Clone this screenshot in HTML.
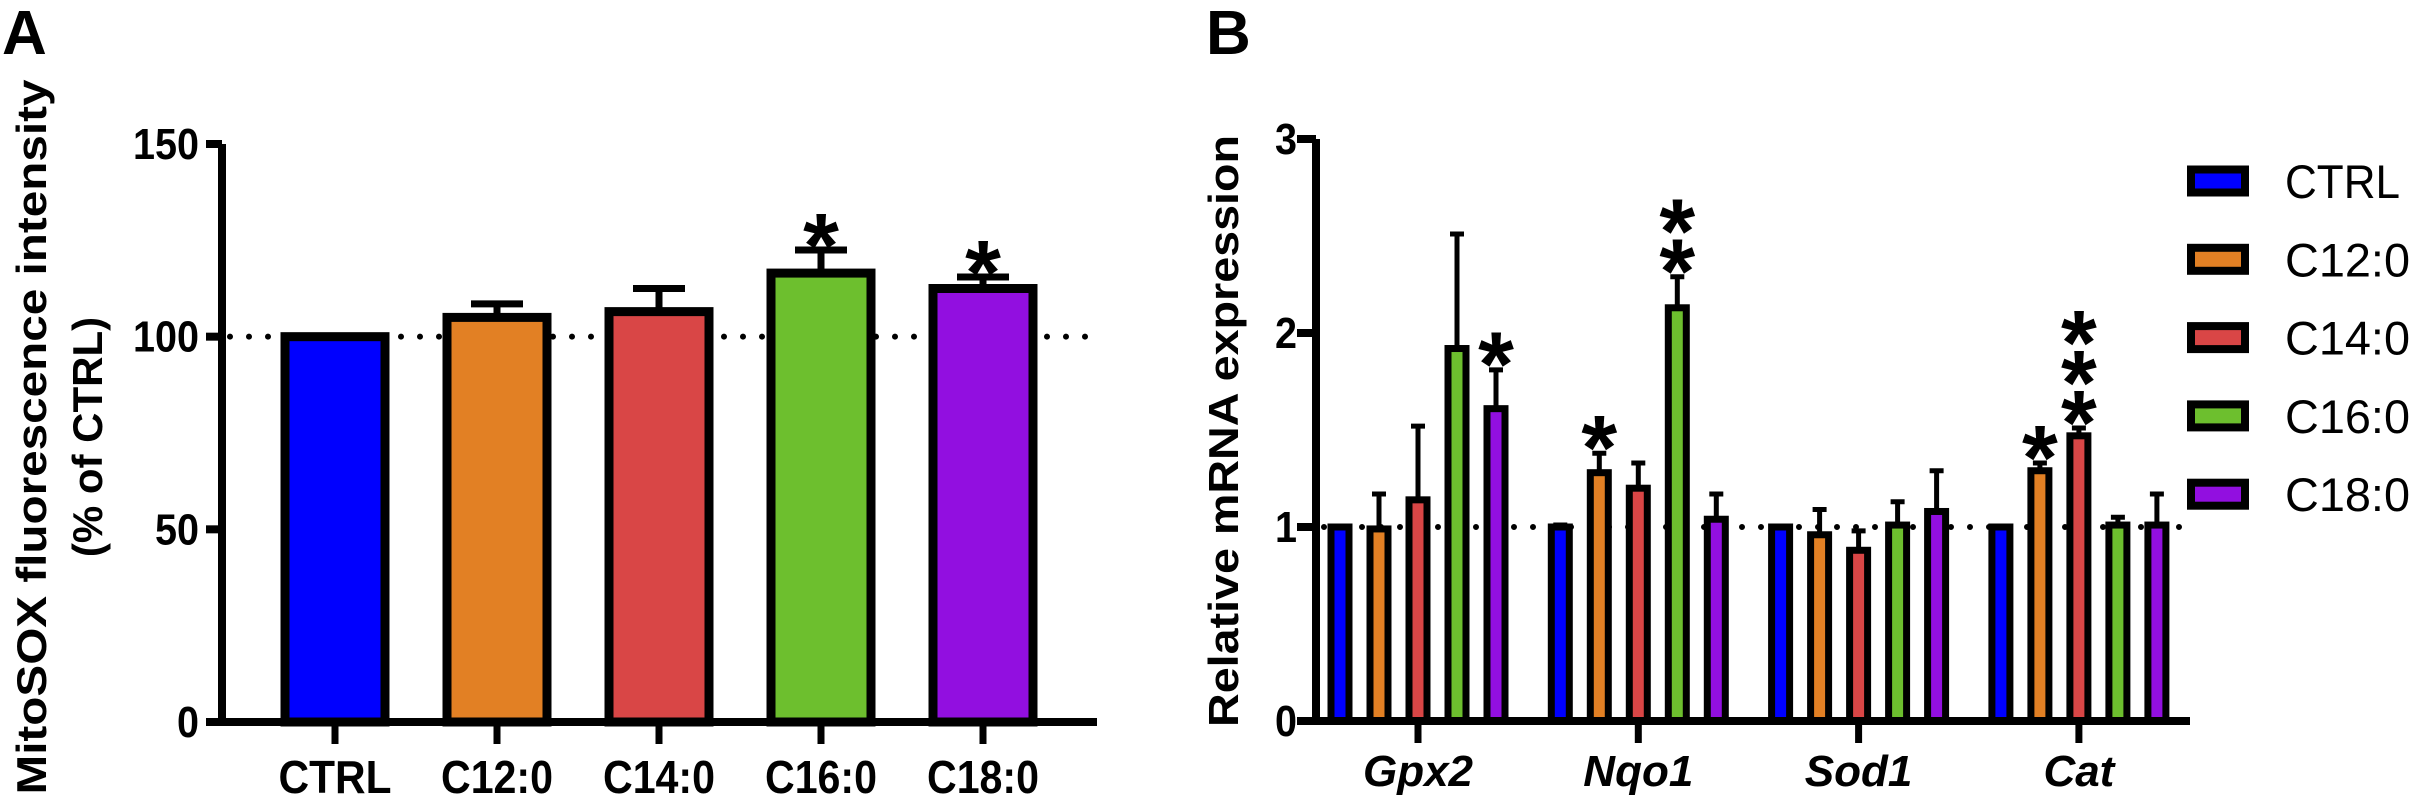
<!DOCTYPE html>
<html><head><meta charset="utf-8"><style>
html,body{margin:0;padding:0;background:#fff;}
svg{display:block;font-family:"Liberation Sans",Arial,sans-serif;}
</style></head><body>
<svg id="fig" width="2413" height="798" viewBox="0 0 2413 798">
<text x="2" y="54" font-size="62" font-weight="bold">A</text>
<text x="1206" y="54" font-size="62" font-weight="bold">B</text>
<text transform="translate(46,437) rotate(-90)" text-anchor="middle" font-size="42" font-weight="bold" textLength="715" lengthAdjust="spacingAndGlyphs">MitoSOX fluorescence intensity</text>
<text transform="translate(102,437) rotate(-90)" text-anchor="middle" font-size="42" font-weight="bold">(% of CTRL)</text>
<text transform="translate(1238,431) rotate(-90)" text-anchor="middle" font-size="42" font-weight="bold" textLength="592" lengthAdjust="spacingAndGlyphs">Relative mRNA expression</text>
<g id="pa"></g>
<g id="pb"></g>
<g id="leg"></g>
</svg>
<script>
const groupsA = ["CTRL","C12:0","C14:0","C16:0","C18:0"];
const valuesA = [100,105,106.5,116.5,112.5];
const errorsA = [0,3.5,6,6,3];
const starsA = [0,0,0,1,1];
const ticksA = [0,50,100,150];

const genesB = ["Gpx2","Nqo1","Sod1","Cat"];
const seriesB = ["CTRL","C12:0","C14:0","C16:0","C18:0"];
const ctrlB = [1.0,1.0,1.0,1.0];
const c12B = [0.99,1.28,0.96,1.29];
const c14B = [1.14,1.20,0.88,1.47];
const c16B = [1.92,2.13,1.01,1.01];
const c18B = [1.61,1.04,1.08,1.01];
const ctrlErrB = [0,0.01,0,0];
const c12ErrB = [0.18,0.10,0.13,0.04];
const c14ErrB = [0.38,0.13,0.10,0.04];
const c16ErrB = [0.59,0.16,0.12,0.04];
const c18ErrB = [0.20,0.13,0.21,0.16];
const starsB = [[0,0,0,0],[0,1,0,1],[0,0,0,3],[0,2,0,0],[1,0,0,0]];
const ticksB = [0,1,2,3];
const colors = ["#0000ff","#e28024","#d94646","#6dbf2e","#920fe0"];

const NS="http://www.w3.org/2000/svg";
function mk(parent,tag,attrs,text){const e=document.createElementNS(NS,tag);for(const k in attrs)e.setAttribute(k,attrs[k]);if(text!==undefined)e.textContent=text;parent.appendChild(e);return e;}
function star(parent,cx,cy,name){
  const t=mk(parent,"text",{x:cx,y:cy+0.58*92,"text-anchor":"middle","font-size":92,"font-weight":"bold"},"*");
  
  
}

// Panel A
const pa=document.getElementById("pa");
const ax0=222, axEnd=1097, ay0=722, ayPer=(722-144)/150;
const yA=v=>ay0-v*ayPer;
const xA=i=>335+i*162;
let dl=mk(pa,"line",{x1:ax0+8,x2:axEnd,y1:yA(100),y2:yA(100),stroke:"#000","stroke-width":6,"stroke-linecap":"round","stroke-dasharray":"0 19"});


groupsA.forEach((g,i)=>{
  const cx=xA(i), w=100, top=yA(valuesA[i]);
  if(errorsA[i]>0){
    const et=yA(valuesA[i]+errorsA[i]);
    const el=mk(pa,"path",{d:`M${cx},${top} V${et} M${cx-26},${et} H${cx+26}`,stroke:"#000","stroke-width":7,fill:"none"});
    
    
  }
  const r=mk(pa,"rect",{x:cx-w/2,y:top,width:w,height:ay0-top,fill:colors[i],stroke:"#000","stroke-width":9});
  
  
  const tk=mk(pa,"line",{x1:cx,x2:cx,y1:ay0,y2:744,stroke:"#000","stroke-width":7});
  
  
  const lb=mk(pa,"text",{x:cx,y:793,"text-anchor":"middle","font-size":46,"font-weight":"bold",textLength:g.length>4?112:113,lengthAdjust:"spacingAndGlyphs"},g);
  
  
  if(starsA[i]){star(pa,cx,yA(valuesA[i]+errorsA[i])-26,'significance-star-a');}
});
let axA=mk(pa,"path",{d:`M${ax0},${yA(150)} V${ay0} H${axEnd}`,stroke:"#000","stroke-width":8,fill:"none"});


ticksA.forEach(t=>{
  const l=mk(pa,"line",{x1:206,x2:ax0,y1:yA(t),y2:yA(t),stroke:"#000","stroke-width":8});
  
  
  const s=String(t);
  const tx=mk(pa,"text",{x:199,y:yA(t)+15,"text-anchor":"end","font-size":44,"font-weight":"bold",textLength:s.length*22,lengthAdjust:"spacingAndGlyphs"},s);
  
  
});

// Panel B
const pb=document.getElementById("pb");
const bx0=1316, bxEnd=2190, by0=721, byPer=(721-139)/3;
const yB=v=>by0-v*byPer;
const xG=i=>1418+i*220.3;
const vals=[ctrlB,c12B,c14B,c16B,c18B];
const errs=[ctrlErrB,c12ErrB,c14ErrB,c16ErrB,c18ErrB];
let dlb=mk(pb,"line",{x1:bx0+8,x2:bxEnd,y1:yB(1),y2:yB(1),stroke:"#000","stroke-width":6,"stroke-linecap":"round","stroke-dasharray":"0 19"});


genesB.forEach((g,gi)=>{
  seriesB.forEach((s,si)=>{
    const cx=xG(gi)+(si-2)*39, w=18, v=vals[si][gi], top=yB(v);
    if(errs[si][gi]>0){
      const et=yB(v+errs[si][gi]);
      const el=mk(pb,"path",{d:`M${cx},${top} V${et} M${cx-7},${et} H${cx+7}`,stroke:"#000","stroke-width":5,fill:"none"});
      
      
    }
    const r=mk(pb,"rect",{x:cx-w/2,y:top,width:w,height:by0-top,fill:colors[si],stroke:"#000","stroke-width":7});
    
    
    const n=starsB[si][gi];
    const base=yB(v+errs[si][gi]);
    for(let k=0;k<n;k++){star(pb,cx,base-27-k*40,'significance-star-b');}
  });
  const tk=mk(pb,"line",{x1:xG(gi),x2:xG(gi),y1:by0,y2:743,stroke:"#000","stroke-width":7});
  
  
  const lb=mk(pb,"text",{x:xG(gi),y:786,"text-anchor":"middle","font-size":44,"font-weight":"bold","font-style":"italic"},g);
  
  
});
let axB=mk(pb,"path",{d:`M${bx0},${yB(3)} V${by0} H${bxEnd}`,stroke:"#000","stroke-width":8,fill:"none"});


ticksB.forEach(t=>{
  const l=mk(pb,"line",{x1:1297,x2:bx0,y1:yB(t),y2:yB(t),stroke:"#000","stroke-width":8});
  
  
  const tx=mk(pb,"text",{x:1297,y:yB(t)+15,"text-anchor":"end","font-size":44,"font-weight":"bold",textLength:22,lengthAdjust:"spacingAndGlyphs"},String(t));
  
  
});

// Legend
const leg=document.getElementById("leg");
seriesB.forEach((s,i)=>{
  const cy=181+i*78.3;
  const r=mk(leg,"rect",{x:2191,y:cy-11.5,width:54,height:23,fill:colors[i],stroke:"#000","stroke-width":8});
  
  
  const t=mk(leg,"text",{x:2285,y:cy+17,"font-size":47,textLength:s.length>4?125:115,lengthAdjust:"spacingAndGlyphs"},s);
  
  
});
</script>
</body></html>
